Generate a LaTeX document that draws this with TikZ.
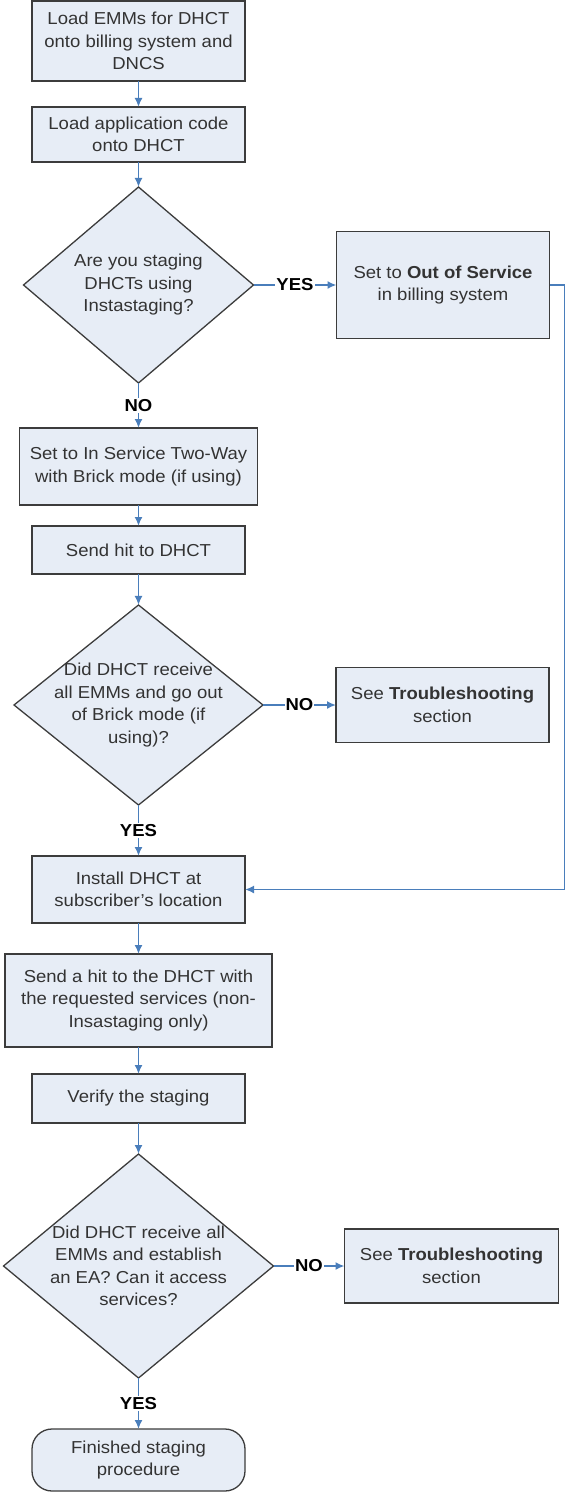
\documentclass[tikz,border=0pt]{standalone}
\usepackage{fontspec}
\setmainfont[FakeStretch=1.07]{Liberation Sans}
\usetikzlibrary{positioning,shapes.geometric,arrows.meta}
\definecolor{boxfill}{HTML}{E7EDF6}
\definecolor{boxline}{HTML}{3C3C3C}
\definecolor{flow}{HTML}{4A7EBB}
\definecolor{boxtext}{HTML}{333333}

\begin{document}
\begin{tikzpicture}[
	every node/.append style={font=\fontsize{17.3}{22.5}\selectfont}
	,box/.style={rectangle, draw=boxline, line width=1.3pt, fill=boxfill, text=boxtext, align=center, inner sep=2pt, outer sep=0pt}
	,dec/.style={diamond, draw=boxline, line width=1.3pt, fill=boxfill, inner sep=0pt, outer sep=0pt}
	,dtext/.style={text=boxtext, align=center}
	,term/.style={box, rounded corners=20pt}
	,arr/.style={draw=flow, line width=1.7pt, -{Latex[length=9pt,width=8pt]}}
	,yn/.style={fill=white, inner sep=1pt, text=black, font=\fontsize{17.3}{20}\selectfont\bfseries}
]
	\useasboundingbox (0,0) rectangle (566pt,-1495pt);
	\node [box, minimum width=213pt, minimum height=80pt] (emm) at (138.5pt,-41pt) {Load EMMs for DHCT\\onto billing system and\\DNCS};
	\node [box, minimum width=213pt, minimum height=55pt, below=26pt of emm] (appcode) {Load application code\\onto DHCT};
	\node [dec, minimum width=230pt, minimum height=196pt, below=25pt of appcode
		,label={[dtext]center:Are you staging\\DHCTs using\\Instastaging?}] (insta) {};
	\node [box, minimum width=213pt, minimum height=107pt, right=83pt of insta] (oos) {Set to \textbf{Out of Service}\\in billing system};
	\node [box, minimum width=238pt, minimum height=77pt, below=45pt of insta] (twoway) {Set to In Service Two-Way\\with Brick mode (if using)};
	\node [box, minimum width=213pt, minimum height=48pt, below=21pt of twoway] (hit) {Send hit to DHCT};
	\node [dec, minimum width=249pt, minimum height=200pt, below=31pt of hit
		,label={[dtext]center:Did DHCT receive\\all EMMs and go out\\of Brick mode (if\\using)?}] (brick) {};
	\node [box, minimum width=213pt, minimum height=75pt, right=73pt of brick] (trouble1) {See \textbf{Troubleshooting}\\section};
	\node [box, minimum width=213pt, minimum height=67pt, below=51pt of brick] (install) {Install DHCT at\\subscriber's location};
	\node [box, minimum width=267pt, minimum height=93pt, below=31pt of install] (services) {Send a hit to the DHCT with\\the requested services (non-\\Insastaging only)};
	\node [box, minimum width=213pt, minimum height=49pt, below=27pt of services] (verify) {Verify the staging};
	\node [dec, minimum width=270pt, minimum height=224pt, below=31pt of verify
		,label={[dtext]center:Did DHCT receive all\\EMMs and establish\\an EA? Can it access\\services?}] (ea) {};
	\node [box, minimum width=214pt, minimum height=74pt, right=71pt of ea] (trouble2) {See \textbf{Troubleshooting}\\section};
	\node [term, minimum width=213pt, minimum height=62pt, below=51pt of ea] (done) {Finished staging\\procedure};

	\draw [arr] (emm) -- (appcode);
	\draw [arr] (appcode) -- (insta);
	\draw [arr] (insta) -- node [yn] {YES} (oos);
	\draw [arr] (insta) -- node [yn] {NO} (twoway);
	\draw [arr] (twoway) -- (hit);
	\draw [arr] (hit) -- (brick);
	\draw [arr] (brick) -- node [yn] {NO} (trouble1);
	\draw [arr] (brick) -- node [yn] {YES} (install);
	\draw [arr] (oos.east) -- ++(15pt,0) |- (install.east);
	\draw [arr] (install) -- (services);
	\draw [arr] (services) -- (verify);
	\draw [arr] (verify) -- (ea);
	\draw [arr] (ea) -- node [yn] {NO} (trouble2);
	\draw [arr] (ea) -- node [yn] {YES} (done);
\end{tikzpicture}
\end{document}
